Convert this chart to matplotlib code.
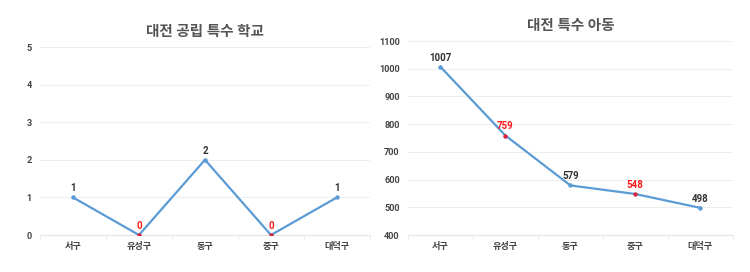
import matplotlib
matplotlib.use('Agg')
import matplotlib.pyplot as plt

# 숫자는 Roboto, 한글은 Noto Sans CJK KR 로 대체
plt.rcParams['font.family'] = ['Roboto', 'Noto Sans CJK KR', 'DejaVu Sans']

# 데이터
districts = ['서구', '유성구', '동구', '중구', '대덕구']
schools = [1, 0, 2, 0, 1]
children = [1007, 759, 579, 548, 498]
red_idx = [1, 3]  # 빨간 표시 지점 (유성구, 중구)

line_color = '#5B9BD5'
text_color = '#444444'
grid_color = '#EEEEEE'

fig = plt.figure(figsize=(7.5, 2.72), dpi=100)
ax1 = fig.add_axes([0.0533, 0.136, 0.44, 0.691])
ax2 = fig.add_axes([0.544, 0.136, 0.433, 0.713])


def draw(ax, values, title, ylim, yticks, offset, title_pad):
    x = list(range(len(districts)))
    ax.plot(x, values, color=line_color, lw=1.6, zorder=3)
    for i, v in enumerate(values):
        red = i in red_idx
        ax.plot(i, v, 'o', ms=2.2, color='#D7263D' if red else line_color, zorder=4)
        ax.annotate(str(v), (i, v), xytext=(0, offset), textcoords='offset points',
                    ha='center', va='bottom', fontsize=7, fontweight='bold',
                    color='#FF1A1A' if red else '#333333')
    ax.set_xlim(-0.5, len(districts) - 0.5)
    ax.set_ylim(*ylim)
    ax.set_yticks(yticks)
    ax.set_xticks(x)
    ax.set_xticklabels(districts)
    ax.set_xticks([i - 0.5 for i in range(len(districts) + 1)], minor=True)
    ax.grid(axis='y', color=grid_color, lw=0.8)
    ax.set_axisbelow(True)
    for s in ['top', 'right', 'left']:
        ax.spines[s].set_visible(False)
    ax.spines['bottom'].set_color('#E5E5E5')
    ax.tick_params(axis='both', labelsize=6.6, colors=text_color, length=0)
    ax.tick_params(axis='x', which='minor', length=3, color='#E5E5E5')
    ax.tick_params(axis='x', pad=5)
    ax.tick_params(axis='y', pad=6)
    for lab in ax.get_xticklabels() + ax.get_yticklabels():
        lab.set_fontweight('bold')
    ax.set_title(title, fontsize=10.5, fontweight='bold', color='#555555', pad=title_pad)


draw(ax1, schools, '대전 공립 특수 학교', (0, 5), range(0, 6), 3, 8)
draw(ax2, children, '대전 특수 아동', (400, 1100), range(400, 1101, 100), 3, 8)

fig.savefig('out.png', dpi=100, facecolor='white')
